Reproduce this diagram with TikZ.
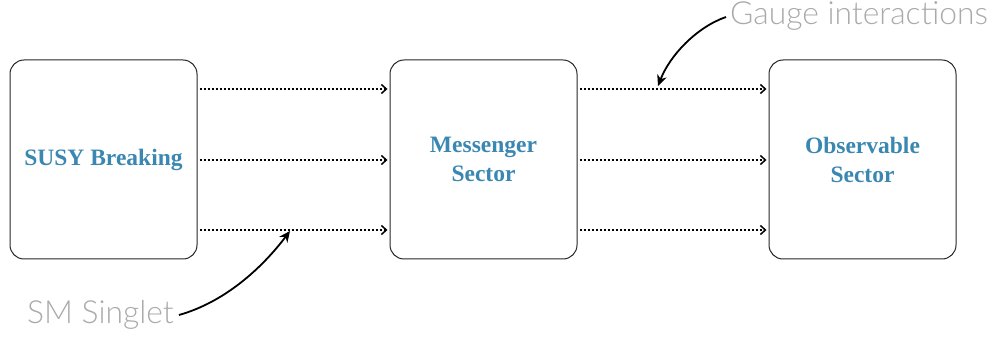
\documentclass[tikz,border=0pt]{standalone}
\usepackage{fontspec}
\setmainfont{Liberation Serif}
\newfontfamily\lightsans{Lato Light}
\usetikzlibrary{arrows.meta}
\definecolor{boxtext}{RGB}{58,135,177}
\definecolor{notegray}{RGB}{170,170,170}
\begin{document}
\begin{tikzpicture}[x=1pt,y=-1pt,
  sectorbox/.style={draw=black!85, line width=1pt, rounded corners=14pt,
    minimum width=187pt, minimum height=199pt, inner sep=0pt,
    align=center, text=boxtext, font=\fontsize{23.5}{30}\selectfont\bfseries},
  flow/.style={dotted, line width=2pt, -{Straight Barb[length=5pt,width=9pt,line width=1.5pt]}},
  pointer/.style={line width=1.8pt, -{Stealth[length=11pt,width=10pt]}},
  note/.style={text=notegray, font=\lightsans\fontsize{31.8}{32}\selectfont, inner sep=0pt}]
  \useasboundingbox (0,0) rectangle (994,339);

  % the three sectors
  \node[sectorbox] (susy) at (103.5,159.5) {\raisebox{-3pt}{SUSY Breaking}};
  \node[sectorbox] (mess) at (483.5,159.5) {\raisebox{-1pt}{Messenger}\\Sector};
  \node[sectorbox] (obs)  at (862.5,159.5) {\raisebox{-1pt}{Observable}\\Sector};

  % dotted couplings between sectors
  \foreach \yy in {89,159,230}{
    \draw[flow] ([yshift=\yy-159.5]susy.east) ++(2,0) -- ([xshift=-2pt,yshift=\yy-159.5]mess.west);
    \draw[flow] ([yshift=\yy-159.5]mess.east) ++(2,0) -- ([xshift=-2pt,yshift=\yy-159.5]obs.west);
  }

  % annotations
  \node[note, anchor=west] (gauge) at (730,16) {Gauge interactions};
  \node[note, anchor=west] (singlet) at (27,315) {SM Singlet};
  \coordinate (gaugetip) at (658,86);
  \coordinate (singlettip) at (290,231);
  \draw[pointer] (gauge.west) ++(-4,1) .. controls (697,27) and (670,55) .. (gaugetip);
  \draw[pointer] (singlet.east) ++(5,0) .. controls (225,302) and (262,268) .. (singlettip);
\end{tikzpicture}
\end{document}
